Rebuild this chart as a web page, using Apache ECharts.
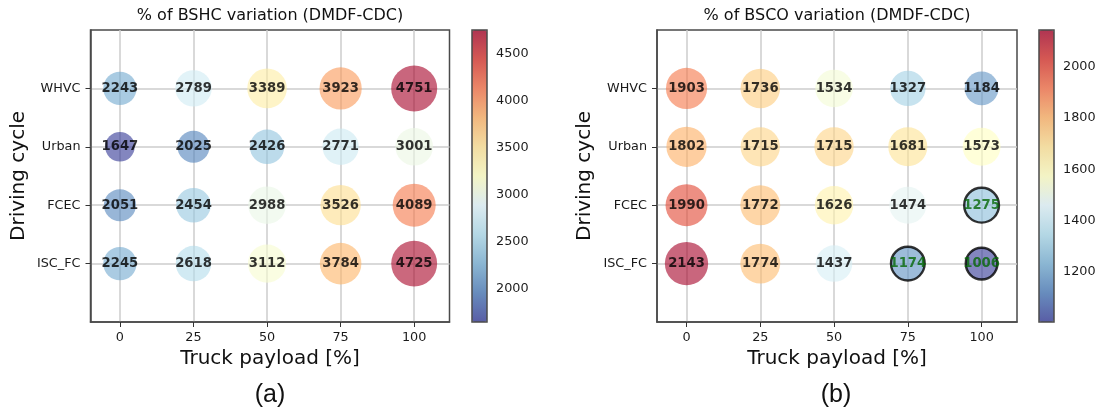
<!DOCTYPE html>
<html>
<head>
<meta charset="utf-8">
<script src="https://cdn.jsdelivr.net/npm/echarts@6/dist/echarts.min.js"></script>
<style>
  html, body { margin: 0; padding: 0; background: #fff; }
  #chart { width: 1104px; height: 416px; }
</style>
</head>
<body>
<div id="chart"></div>
<script>
// Truck payload levels (x axis) and driving cycles (y axis, bottom to top)
const payloads = [0, 25, 50, 75, 100];
const cycles = ['ISC_FC', 'FCEC', 'Urban', 'WHVC'];

// % of BSHC variation (DMDF-CDC), one array per cycle, indexed by payload
const bshcISC = [2245, 2618, 3112, 3784, 4725];
const bshcFCEC = [2051, 2454, 2988, 3526, 4089];
const bshcUrban = [1647, 2025, 2426, 2771, 3001];
const bshcWHVC = [2243, 2789, 3389, 3923, 4751];

// % of BSCO variation (DMDF-CDC)
const bscoISC = [2143, 1774, 1437, 1174, 1006];
const bscoFCEC = [1990, 1772, 1626, 1474, 1275];
const bscoUrban = [1802, 1715, 1715, 1681, 1573];
const bscoWHVC = [1903, 1736, 1534, 1327, 1184];

// Points outlined in black with green labels
const bscoOutlined = [['FCEC', 100], ['ISC_FC', 75], ['ISC_FC', 100]];

// Colour bar tick labels
const bshcTicks = [2000, 2500, 3000, 3500, 4000, 4500];
const bscoTicks = [1200, 1400, 1600, 1800, 2000];

const bshcRows = [bshcISC, bshcFCEC, bshcUrban, bshcWHVC];
const bscoRows = [bscoISC, bscoFCEC, bscoUrban, bscoWHVC];

// RdYlBu reversed, drawn with 0.75 alpha
const rdylbu = ['#313695', '#4575b4', '#74add1', '#abd9e9', '#e0f3f8', '#ffffbf',
                '#fee090', '#fdae61', '#f46d43', '#d73027', '#a50026'];
function withAlpha(hex, a) {
  const n = parseInt(hex.slice(1), 16);
  return 'rgba(' + (n >> 16) + ',' + ((n >> 8) & 255) + ',' + (n & 255) + ',' + a + ')';
}
const palette = rdylbu.map(c => withAlpha(c, 0.75));

function toPoints(rows, outlined) {
  const pts = [];
  rows.forEach((row, yi) => {
    row.forEach((v, xi) => {
      const hit = outlined && outlined.some(o => o[0] === cycles[yi] && o[1] === payloads[xi]);
      const item = { value: [payloads[xi], yi, v] };
      if (hit) {
        item.itemStyle = { borderColor: '#000', borderWidth: 2.4 };
        item.label = { color: '#066806' };
      }
      pts.push(item);
    });
  });
  return pts;
}

const bshcFlat = [].concat(...bshcRows);
const bscoFlat = [].concat(...bscoRows);
const bshcMin = Math.min(...bshcFlat), bshcMax = Math.max(...bshcFlat);
const bscoMin = Math.min(...bscoFlat), bscoMax = Math.max(...bscoFlat);

// Bubble area grows linearly with the value
function sizer(lo, hi, dLo, dHi) {
  return function (val) {
    const t = (val[2] - lo) / (hi - lo);
    return Math.sqrt(dLo * dLo + t * (dHi * dHi - dLo * dLo));
  };
}

const FONT = 'DejaVu Sans';
const TICK = { fontFamily: FONT, fontSize: 12.8, color: '#1a1a1a' };
const FRAME = '#4a4a4a';

function mainX(gridIndex) {
  return {
    type: 'value', gridIndex: gridIndex, min: -10, max: 112,
    name: 'Truck payload [%]', nameLocation: 'middle', nameGap: 27,
    nameTextStyle: { fontFamily: FONT, fontSize: 20, color: '#111' },
    axisLine: { show: true, onZero: false, lineStyle: { color: FRAME, width: 1.5 } },
    axisTick: { show: true, customValues: payloads, length: 5, lineStyle: { color: '#333', width: 1 } },
    axisLabel: Object.assign({ customValues: payloads, margin: 9 }, TICK),
    splitLine: { show: true, lineStyle: { color: '#cdcdcd', width: 1.5 } }
  };
}
function mainY(gridIndex) {
  return {
    type: 'value', gridIndex: gridIndex, min: -1, max: 4,
    name: 'Driving cycle', nameLocation: 'middle', nameGap: 62,
    nameTextStyle: { fontFamily: FONT, fontSize: 20, color: '#111' },
    axisLine: { show: true, onZero: false, lineStyle: { color: FRAME, width: 1.5 } },
    axisTick: { show: true, customValues: [0, 1, 2, 3], length: 5, lineStyle: { color: '#333', width: 1 } },
    axisLabel: Object.assign({ customValues: [0, 1, 2, 3], margin: 10, formatter: v => cycles[v] || '' }, TICK),
    splitLine: { show: true, lineStyle: { color: '#cdcdcd', width: 1.5 } }
  };
}
function barX(gridIndex) {
  return { type: 'value', gridIndex: gridIndex, show: false, min: 0, max: 1 };
}
function barY(gridIndex, lo, hi, ticks) {
  return {
    type: 'value', gridIndex: gridIndex, min: lo, max: hi, position: 'right',
    axisLine: { show: false },
    axisTick: { show: true, customValues: ticks, length: 4, lineStyle: { color: '#333', width: 1 } },
    axisLabel: Object.assign({ customValues: ticks, margin: 9, formatter: v => String(v) }, TICK),
    splitLine: { show: false }
  };
}

const gridBox = { show: true, borderColor: FRAME, borderWidth: 1.5, backgroundColor: 'transparent' };

const labelStyle = {
  show: true, position: 'inside', formatter: p => String(p.value[2]),
  fontFamily: FONT, fontWeight: 'bold', fontSize: 13.2, color: '#000'
};

const option = {
  animation: false,
  backgroundColor: '#fff',
  title: [
    { text: '% of BSHC variation (DMDF-CDC)', left: 270, top: 8, textAlign: 'center', padding: 0,
      textStyle: { fontFamily: FONT, fontSize: 16, fontWeight: 'normal', color: '#111' } },
    { text: '% of BSCO variation (DMDF-CDC)', left: 837, top: 8, textAlign: 'center', padding: 0,
      textStyle: { fontFamily: FONT, fontSize: 16, fontWeight: 'normal', color: '#111' } },
    { text: '(a)', left: 270, top: 383, textAlign: 'center', padding: 0,
      textStyle: { fontFamily: 'Liberation Sans', fontSize: 25, fontWeight: 'normal', color: '#111' } },
    { text: '(b)', left: 836, top: 383, textAlign: 'center', padding: 0,
      textStyle: { fontFamily: 'Liberation Sans', fontSize: 25, fontWeight: 'normal', color: '#111' } }
  ],
  grid: [
    Object.assign({ left: 90.5, top: 30, width: 359, height: 292 }, gridBox),
    Object.assign({ left: 657, top: 30, width: 360, height: 292 }, gridBox),
    Object.assign({ left: 472, top: 30, width: 15, height: 292, z: 10 }, gridBox),
    Object.assign({ left: 1039, top: 30, width: 15, height: 292, z: 10 }, gridBox)
  ],
  xAxis: [mainX(0), mainX(1), barX(2), barX(3)],
  yAxis: [mainY(0), mainY(1), barY(2, bshcMin, bshcMax, bshcTicks), barY(3, bscoMin, bscoMax, bscoTicks)],
  visualMap: [
    { type: 'continuous', seriesIndex: 0, dimension: 2, min: bshcMin, max: bshcMax,
      inRange: { color: palette }, calculable: false, hoverLink: false,
      left: 472, top: 30, itemWidth: 15, itemHeight: 292, padding: 0, orient: 'vertical' },
    { type: 'continuous', seriesIndex: 1, dimension: 2, min: bscoMin, max: bscoMax,
      inRange: { color: palette }, calculable: false, hoverLink: false,
      left: 1039, top: 30, itemWidth: 15, itemHeight: 292, padding: 0, orient: 'vertical' }
  ],
  series: [
    { type: 'scatter', xAxisIndex: 0, yAxisIndex: 0, data: toPoints(bshcRows, null),
      symbolSize: sizer(bshcMin, bshcMax, 29.5, 46), itemStyle: { borderWidth: 0 }, label: labelStyle },
    { type: 'scatter', xAxisIndex: 1, yAxisIndex: 1, data: toPoints(bscoRows, bscoOutlined),
      symbolSize: sizer(bscoMin, bscoMax, 31.7, 43.3), itemStyle: { borderWidth: 0 }, label: labelStyle }
  ]
};

const chart = echarts.init(document.getElementById('chart'), null, { renderer: 'canvas' });
chart.setOption(option);
</script>
</body>
</html>
